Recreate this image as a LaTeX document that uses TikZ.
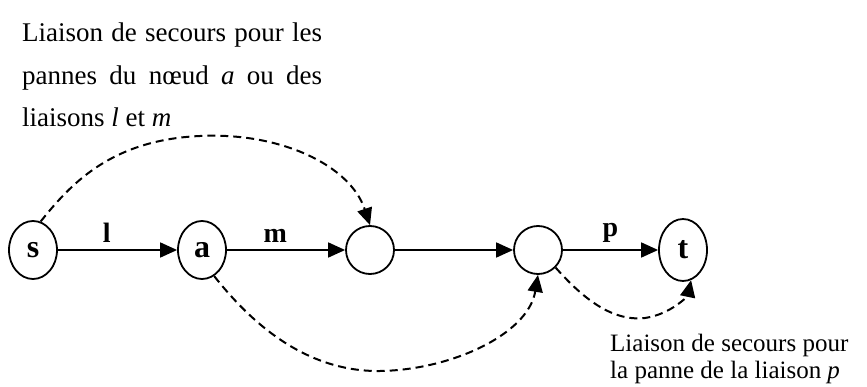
\documentclass[tikz,border=0pt]{standalone}
\usepackage{fontspec}
\setmainfont{Liberation Serif}
\usetikzlibrary{arrows.meta,shapes.geometric}
\begin{document}
\begin{tikzpicture}[x=1pt, y=-1pt, line join=round, line cap=round,
	noeud/.style={draw, line width=1.8pt, ellipse, minimum width=48pt, minimum height=58pt, inner sep=0pt, font=\fontsize{32}{32}\selectfont\bfseries},
	vide/.style={draw, line width=1.8pt, circle, minimum size=48pt, inner sep=0pt},
	lien/.style={line width=1.8pt, -{Triangle[length=17pt,width=15pt]}},
	secours/.style={lien, line width=2pt, dash pattern=on 8pt off 5pt, line cap=butt},
	etiq/.style={font=\fontsize{28}{28}\selectfont\bfseries, inner sep=0pt, above=7pt},
	texte/.style={inner sep=0pt, anchor=base west, font=\fontsize{25}{27}\selectfont}]
	\useasboundingbox (0,0) rectangle (867,387);
	% les noeuds
	\node[noeud] (s) at (33,250) {s};
	\node[noeud] (a) at (202,250) {a};
	\node[vide] (b) at (370,250) {};
	\node[vide] (c) at (538,250) {};
	\node[noeud, minimum height=62pt] (t) at (683,250) {t};
	% les liaisons
	\draw[lien] (s) -- (a) node[etiq, pos=.41] (ll) {l};
	\draw[lien] (a) -- (b) node[etiq, pos=.41] (lm) {m};
	\draw[lien] (b) -- (c);
	\draw[lien] (c) -- (t) node[etiq, pos=.5] (lp) {p};
	% liaisons de secours
	\draw[secours] (s.75) .. controls (70,185) and (110,140) .. (200,136) .. controls (280,132) and (350,165) .. (b.north);
	\draw[secours] (a.-65) .. controls (245,315) and (300,372) .. (380,371) .. controls (450,370) and (528,335) .. (c.south);
	\draw[secours] (c.-45) .. controls (580,295) and (610,322) .. (645,318) .. controls (672,314) and (688,295) .. (t.-75);
	% les textes
	\node[texte, text width=300pt, align=justify, font=\fontsize{27}{42.5}\selectfont] (txtlm) at (22,42) {Liaison de secours pour les\linebreak pannes du n\oe ud \textit{a} ou des\linebreak liaisons \textit{l} et \textit{m}};
	\node[texte, align=left] (txtp) at (610,378) {Liaison de secours pour\\la panne de la liaison \textit{p}};
\end{tikzpicture}
\end{document}
